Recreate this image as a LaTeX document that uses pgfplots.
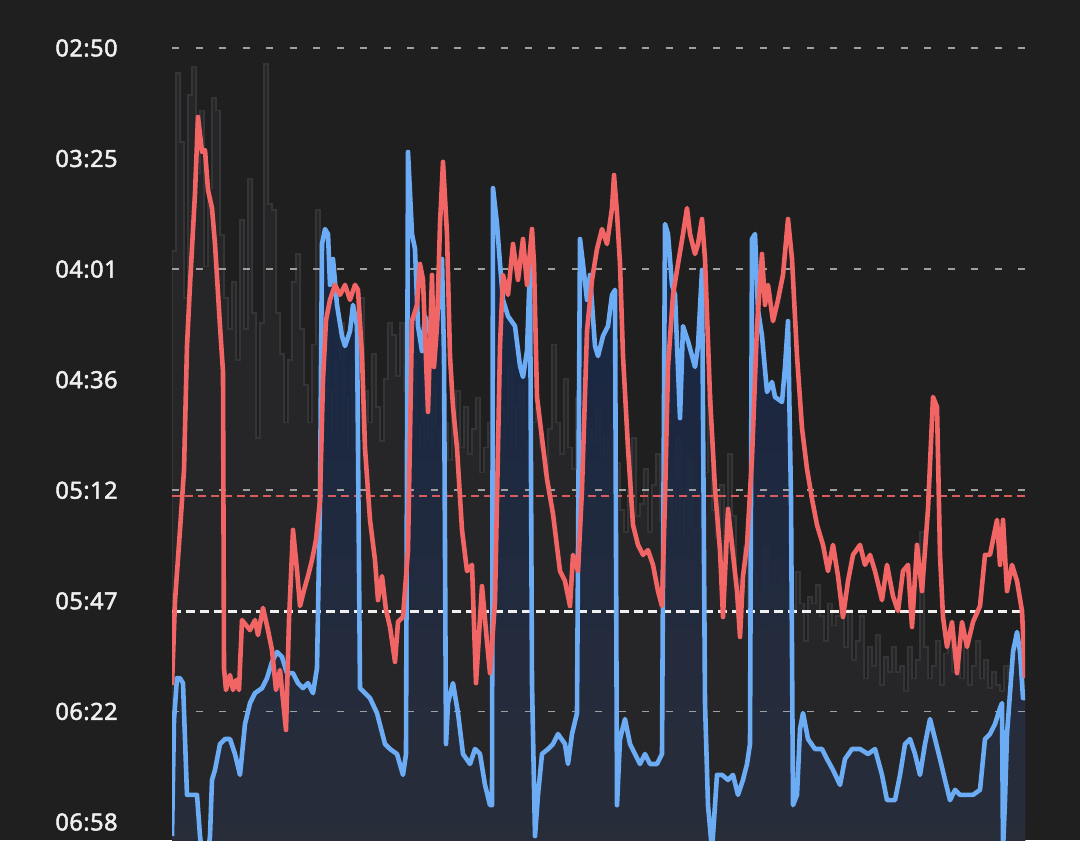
\documentclass[border=0pt]{standalone}
\usepackage{fontspec}
\setmainfont{Noto Sans}
\newfontfamily\lblfont{Noto Sans}[LetterSpace=2, FakeBold=2]
\usepackage{pgfplots}
\pgfplotsset{compat=1.18}
\usepackage{pgfplotstable}
\definecolor{bg}{HTML}{1F1F1F}
\definecolor{lbl}{HTML}{F0F0F0}
\definecolor{gridc}{HTML}{A0A0A0}
\definecolor{redl}{HTML}{F26565}
\definecolor{redref}{HTML}{D95C5C}
\definecolor{bluel}{HTML}{6CACF5}
\definecolor{bluetop}{HTML}{15284A}
\definecolor{bluebot}{HTML}{2A2E3A}
\definecolor{grayfill}{HTML}{262628}
\definecolor{grayline}{HTML}{353538}

\pgfplotstableread{
x y
0 440
0 235
4 178
8 200
12 250
16 185
20 176
24 210
28 190
32 240
36 215
40 186
44 190
48 230
52 250
56 260
60 245
64 270
68 225
72 260
76 212
80 255
84 295
88 258
92 175
96 220
100 222
104 255
108 268
112 290
116 270
120 245
124 236
128 260
132 278
136 290
140 265
144 222
148 240
152 262
156 280
160 295
164 270
168 258
172 282
176 300
180 272
184 265
188 250
192 280
196 290
200 268
204 285
208 296
212 276
216 258
220 262
224 275
228 258
232 280
236 295
240 270
244 290
248 300
252 285
256 295
260 278
264 292
268 300
272 290
276 302
280 288
284 280
288 298
292 285
296 300
300 292
304 282
308 306
312 298
316 290
320 302
324 294
328 285
332 290
336 272
340 300
344 285
348 278
352 296
356 302
360 290
364 285
368 298
372 306
376 292
380 265
384 290
388 300
392 276
396 298
400 305
404 282
408 288
412 300
416 292
420 296
424 286
428 300
432 294
436 308
440 290
444 303
448 318
452 325
456 312
460 295
464 320
468 316
472 305
476 325
480 310
484 300
488 322
492 330
496 308
500 318
504 295
508 326
512 315
516 302
520 324
524 335
528 312
532 306
536 281
540 318
544 327
548 310
552 332
556 300
560 320
564 340
568 345
572 330
576 355
580 338
584 345
588 352
592 330
596 348
600 342
604 356
608 340
612 355
616 345
620 350
624 338
628 348
632 360
636 346
640 348
644 342
648 352
652 360
656 348
660 355
664 352
668 345
672 362
676 350
680 366
684 360
688 352
692 372
696 362
700 368
704 358
708 374
712 365
716 370
720 362
724 370
728 368
732 376
736 362
740 372
744 366
748 325
752 362
756 372
760 368
764 360
768 374
772 364
776 357
780 370
784 366
788 372
792 362
796 374
800 368
804 360
808 372
812 366
816 375
820 370
824 374
828 376
832 368
836 372
840 362
844 370
848 366
853 372
853 440
}\graydata

\pgfplotstableread{
x y
0 422.5
2 385.3
5 371.9
8 371.9
11 373.5
15 409.3
20 409.3
25 409.3
28 422.5
33 436.6
38 422.5
40 404.5
43 401.3
48 393.0
53 391.4
58 391.4
63 396.2
68 402.9
73 386.6
78 379.9
83 376.7
90 375.1
95 371.9
100 366.7
105 363.5
110 365.1
115 370.3
121 370.3
126 373.5
131 375.1
136 373.5
141 376.7
145 368.7
148 314.5
150 232.8
153 228.0
156 229.6
158 245.9
161 237.6
165 252.3
170 262.3
173 265.5
178 260.7
181 252.3
185 259.1
188 375.1
193 376.7
198 378.3
205 383.1
213 393.0
218 394.6
225 396.2
231 402.9
234 396.2
236 203.3
240 229.6
243 234.4
246 259.1
250 267.1
253 255.9
260 263.9
265 257.5
270 237.6
272 268.7
274 393.0
276 379.9
281 373.5
286 383.1
291 396.2
298 399.4
303 394.6
308 396.2
313 406.1
318 412.6
320 412.6
321 214.9
325 226.4
328 239.2
331 250.7
336 255.9
343 259.1
348 271.9
351 275.4
355 267.1
358 239.2
360 373.5
363 422.5
366 409.3
370 396.2
376 394.6
381 393.0
386 389.8
393 393.0
396 399.4
400 389.8
405 383.1
408 231.2
411 239.2
415 250.7
418 242.7
423 265.5
426 268.7
431 262.3
436 259.1
440 249.1
443 247.5
445 412.6
448 391.4
453 385.0
458 393.0
463 396.2
468 399.4
473 396.2
478 399.4
485 399.4
490 396.2
493 226.4
496 229.6
500 245.9
503 249.1
508 288.6
511 259.1
516 263.9
523 272.2
526 265.5
530 241.1
533 379.9
536 412.6
540 427.0
545 402.9
550 402.9
556 404.5
561 402.9
566 409.3
571 404.5
575 399.4
578 393.0
580 231.2
583 229.6
586 253.9
590 262.3
595 280.2
600 277.0
603 281.8
610 283.4
613 272.2
616 257.5
619 314.5
621 412.6
625 409.3
628 388.2
631 383.1
636 391.4
643 394.6
650 394.6
655 397.8
661 401.3
668 406.1
673 397.8
680 394.6
688 394.6
696 396.2
703 394.6
710 402.9
715 411.0
723 411.0
728 402.9
733 393.0
738 391.4
743 396.2
748 402.9
753 393.0
758 385.0
763 391.4
768 397.8
773 404.5
778 411.0
783 407.7
788 409.3
795 409.3
801 409.3
808 407.7
813 391.4
818 389.8
823 386.6
828 381.5
830 379.9
831 427.0
833 411.0
835 389.8
838 376.7
841 363.5
845 357.1
848 363.5
851 378.3
853 378.3
}\bluedata

\pgfplotstableread{
x y
0 374.1
3 347.2
8 324.4
12 305.2
15 265.5
18 245.9
23 216.5
26 192.1
30 203.3
33 202.7
36 215.5
40 221.3
43 232.8
48 259.1
51 273.8
52 368.7
54 375.7
58 370.9
61 375.7
64 372.5
67 375.7
70 353.3
78 356.5
83 353.3
86 358.1
91 349.4
96 356.5
100 362.9
104 375.7
108 369.3
111 378.9
114 388.5
117 353.3
121 324.4
125 337.3
128 348.8
132 343.7
136 339.2
140 334.1
144 327.6
148 314.8
151 276.4
154 257.2
158 250.7
163 245.9
168 249.1
173 245.9
178 250.7
183 245.9
186 247.5
190 268.7
193 298.2
198 321.2
203 334.1
206 346.9
210 339.2
214 350.1
218 355.5
223 366.7
226 353.9
231 352.3
236 330.9
240 257.5
245 252.3
248 239.2
251 244.3
256 286.6
260 242.7
262 272.2
265 259.1
268 226.4
271 206.5
275 229.6
278 268.7
281 285.0
285 298.2
290 324.4
295 337.6
300 335.6
304 373.5
310 342.4
315 360.3
318 370.3
323 347.2
328 265.5
331 242.7
336 249.1
341 232.8
346 244.3
351 231.2
355 245.9
360 228.0
362 239.2
365 281.8
370 295.0
375 308.1
381 319.3
388 337.6
393 340.8
398 348.8
401 332.4
406 337.6
410 311.3
415 260.7
420 244.3
425 234.4
430 228.0
435 232.8
440 221.3
442 210.7
445 222.9
448 239.2
451 268.7
456 298.2
461 322.8
466 329.2
471 332.4
476 330.9
481 335.6
486 344.0
490 348.8
493 314.5
496 272.2
501 249.1
506 239.2
511 229.6
515 221.3
518 229.6
523 236.0
526 232.8
530 224.8
533 237.6
538 281.8
543 311.3
548 330.9
551 352.3
556 317.7
560 329.2
565 344.0
568 358.7
571 339.2
575 329.2
580 301.4
585 259.1
590 236.0
593 252.3
596 245.9
601 257.5
606 250.7
611 242.7
616 224.8
620 237.6
625 268.7
630 291.8
635 304.9
640 314.5
645 322.8
651 329.2
656 337.6
661 329.2
666 339.2
671 352.3
676 340.8
681 332.4
688 329.2
693 335.6
698 332.4
703 337.6
710 346.9
715 335.6
721 345.6
726 350.4
731 337.6
736 335.6
740 355.5
745 329.2
750 344.0
753 330.9
756 317.7
761 281.8
765 285.0
768 332.4
771 352.3
775 361.9
780 353.9
785 370.3
790 353.9
795 361.9
801 353.9
808 348.8
813 332.4
818 332.4
825 321.2
828 335.6
831 321.2
835 344.0
840 335.6
845 340.8
850 350.4
853 371.9
}\reddata

\begin{document}
\begin{tikzpicture}
\fill[bg] (0,0) rectangle (540pt,420pt);
\begin{axis}[
  at={(86pt,0pt)}, anchor=south west,
  scale only axis, width=426.5pt, height=420pt,
  xmin=0, xmax=853, ymin=154.62, ymax=423.76, y dir=reverse,
  axis line style={draw=none},
  xtick=\empty,
  ytick={170,205.43,240.86,276.29,311.71,347.14,382.57,418},
  yticklabels={02:50,03:25,04:01,04:36,05:12,05:47,06:22,06:58},
  major tick length=0pt,
  yticklabel style={font=\lblfont\fontsize{11.8}{12}\selectfont, text=lbl, anchor=west, inner sep=0pt, xshift=-58.5pt},
  clip=true,
]
% gray raw series
\addplot[const plot, fill=grayfill, draw=grayline, line width=0.9pt] table[x=x,y=y] {\graydata};
% blue area
\addplot[draw=none, top color=bluetop, bottom color=bluebot, fill opacity=0.9]
  table[x=x,y=y] {\bluedata} -- (axis cs:853,440) -- (axis cs:0,440) -- cycle;
% grid lines
\foreach \v in {170,240.86,311.71,382.57}{
  \edef\tmp{\noexpand\draw[gridc, line width=0.8pt, dash pattern=on 3.5pt off 8.25pt] (axis cs:0,\v) -- (axis cs:853,\v);}\tmp
}
\draw[redref, line width=1pt, dash pattern=on 4pt off 2.5pt] (axis cs:0,313.4) -- (axis cs:853,313.4);
\draw[white!94!black, line width=1.5pt, dash pattern=on 4.5pt off 2.5pt] (axis cs:0,350.6) -- (axis cs:853,350.6);
% lines
\addplot[bluel, line width=2.3pt, line join=round] table[x=x,y=y] {\bluedata};
\addplot[redl, line width=2.3pt, line join=round] table[x=x,y=y] {\reddata};
\end{axis}
\pgfresetboundingbox
\path (0,0) rectangle (540pt,420pt);
\end{tikzpicture}
\end{document}
